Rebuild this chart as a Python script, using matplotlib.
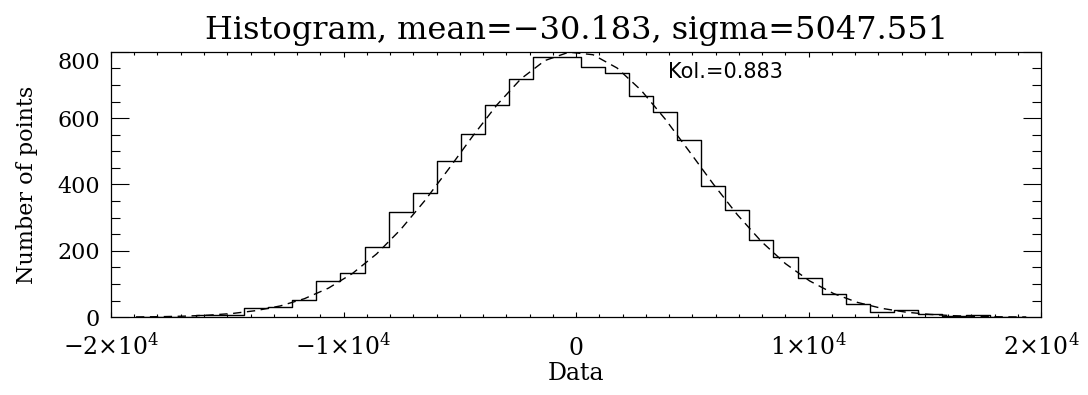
import numpy as np
import matplotlib
matplotlib.use('Agg')
import matplotlib.pyplot as plt
from matplotlib.ticker import MultipleLocator, FixedLocator, FixedFormatter
from matplotlib.transforms import ScaledTranslation

# ---------------------------
# Data
# ---------------------------
mean_val = -30.183
sigma_val = 5047.551
kol_val = 0.883

bin_start = -18925.0   # centre of first bin
bin_width = 1034.4

counts = [1, 1, 2, 6, 6, 29, 30, 52, 108, 132,
          213, 316, 373, 472, 552, 641, 717, 785, 785, 754,
          736, 668, 618, 534, 394, 322, 234, 180, 117, 70,
          40, 15, 21, 9, 3, 7, 1, 1]

# gaussian fit sampled at the bin centres (dashed curve)
fit_vals = [0.7, 1.5, 3.1, 6.0, 11.1, 19.9, 33.9, 55.7, 87.5, 131.8,
            190.5, 264.0, 350.7, 446.8, 545.9, 639.4, 718.2, 773.5, 798.8, 791.0,
            751.0, 683.8, 597.0, 499.8, 401.1, 308.7, 227.9, 161.3, 109.4, 71.2,
            44.4, 26.6, 15.2, 8.4, 4.4, 2.2, 1.1, 0.5]

x_ticks = [-2e4, -1e4, 0, 1e4, 2e4]
x_tick_labels = [r'$-2{\times}10^{4}$', r'$-1{\times}10^{4}$', r'$0$',
                 r'$1{\times}10^{4}$', r'$2{\times}10^{4}$']
y_ticks = [0, 200, 400, 600, 800]

centers = bin_start + bin_width * np.arange(len(counts))

# ---------------------------
# Plot
# ---------------------------
plt.rcParams['font.family'] = ['DejaVu Serif']
plt.rcParams['mathtext.fontset'] = 'dejavuserif'

fig = plt.figure(figsize=(10.88, 3.95), dpi=100)
ax = fig.add_axes([0.102, 0.197, 0.855, 0.672])

ax.step(centers, counts, where='mid', color='black', lw=1.0)
ax.plot(centers, fit_vals, color='black', lw=1.0, dashes=(6, 4))

ax.set_xlim(-2e4, 2e4)
ax.set_ylim(0, 800)

ax.xaxis.set_major_locator(FixedLocator(x_ticks))
ax.xaxis.set_major_formatter(FixedFormatter(x_tick_labels))
ax.xaxis.set_minor_locator(MultipleLocator(1000))
ax.set_yticks(y_ticks)
ax.yaxis.set_minor_locator(MultipleLocator(50))

ax.tick_params(axis='x', which='major', direction='in', length=3.8, width=0.8,
               top=True, labelsize=17, pad=27)
ax.tick_params(axis='x', which='minor', direction='in', length=1.9, width=0.8, top=True)
ax.tick_params(axis='y', which='major', direction='in', length=13, width=0.8,
               right=True, labelsize=16, pad=8)
ax.tick_params(axis='y', which='minor', direction='in', length=6.5, width=0.8, right=True)

for lab in ax.get_xticklabels():
    lab.set_va('baseline')

# IDL keeps the top label inside the axis range
ylabs = ax.get_yticklabels()
ylabs[-1].set_transform(ylabs[-1].get_transform() +
                        ScaledTranslation(0, -9 / 100, fig.dpi_scale_trans))

for sp in ax.spines.values():
    sp.set_linewidth(0.9)

ax.set_title(f'Histogram, mean={mean_val:.3f}, sigma={sigma_val:.3f}'.replace('-', '\u2212'),
             fontsize=23, pad=9)
ax.set_xlabel('Data', fontsize=17, labelpad=2)
ax.set_ylabel('Number of points', fontsize=16, labelpad=14)

ax.text(0.599, 0.925, f'Kol.={kol_val:.3f}', transform=ax.transAxes,
        family='DejaVu Sans', fontsize=15, va='center', ha='left')

fig.savefig('out.png', dpi=100)
